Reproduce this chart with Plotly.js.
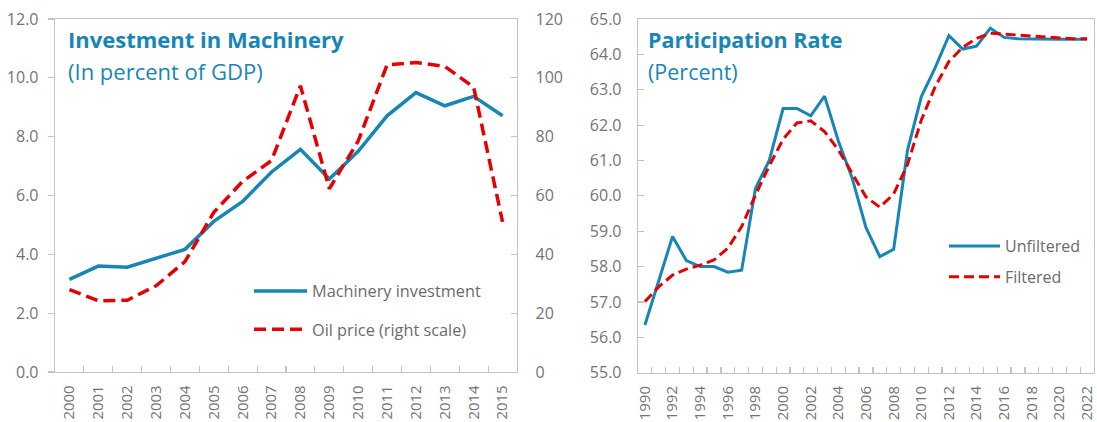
<!DOCTYPE html>
<html>
<head>
<meta charset="utf-8">
<script src="https://cdn.plot.ly/plotly-3.0.1.min.js"></script>
<style>
  html, body { margin: 0; padding: 0; background: #ffffff; }
  #chart { width: 1097px; height: 422px; }
</style>
</head>
<body>
<div id="chart"></div>
<script>
// ---- Left panel data ----
const yearsLeft = ['2000','2001','2002','2003','2004','2005','2006','2007','2008','2009','2010','2011','2012','2013','2014','2015'];
const machineryInvestment = [3.15, 3.60, 3.56, 3.86, 4.17, 5.12, 5.80, 6.80, 7.57, 6.56, 7.50, 8.71, 9.50, 9.05, 9.37, 8.71];
const oilPrice = [28.0, 24.2, 24.4, 29.3, 37.5, 54.3, 64.8, 71.9, 97.3, 62.3, 78.5, 104.4, 105.2, 103.9, 96.8, 51.0];

// ---- Right panel data ----
const yearsRight = ['1990','1991','1992','1993','1994','1995','1996','1997','1998','1999','2000','2001','2002','2003','2004','2005','2006','2007','2008','2009','2010','2011','2012','2013','2014','2015','2016','2017','2018','2019','2020','2021','2022'];
const yearLabelsRight = ['1990','','1992','','1994','','1996','','1998','','2000','','2002','','2004','','2006','','2008','','2010','','2012','','2014','','2016','','2018','','2020','','2022'];
const unfiltered = [56.35, 57.60, 58.85, 58.17, 58.00, 58.00, 57.84, 57.90, 60.21, 61.00, 62.47, 62.47, 62.26, 62.82, 61.55, 60.50, 59.10, 58.28, 58.49, 61.28, 62.80, 63.62, 64.53, 64.15, 64.23, 64.74, 64.48, 64.44, 64.43, 64.43, 64.43, 64.43, 64.43];
const filtered = [57.01, 57.43, 57.76, 57.93, 58.04, 58.19, 58.52, 59.13, 60.02, 60.85, 61.60, 62.06, 62.12, 61.82, 61.30, 60.64, 59.97, 59.68, 60.05, 60.88, 62.14, 63.08, 63.80, 64.20, 64.45, 64.60, 64.57, 64.54, 64.51, 64.48, 64.45, 64.44, 64.44];

const BLUE = '#1786b6';
const RED = '#e60000';
const AXIS = '#c3c3c3';
const TICKTXT = '#747474';
const FONT = 'Open Sans, Noto Sans, sans-serif';

const traces = [
  { x: yearsLeft, y: machineryInvestment, name: 'Machinery investment', type: 'scatter', mode: 'lines',
    line: { color: BLUE, width: 3.5 }, xaxis: 'x', yaxis: 'y', legend: 'legend', legendgroup: 'a' },
  { x: yearsLeft, y: oilPrice, name: 'Oil price (right scale)', type: 'scatter', mode: 'lines',
    line: { color: RED, width: 3.5, dash: '12px,6px' }, xaxis: 'x', yaxis: 'y2', legend: 'legend', legendgroup: 'b' },
  { x: yearsRight, y: unfiltered, name: 'Unfiltered', type: 'scatter', mode: 'lines',
    line: { color: BLUE, width: 3 }, xaxis: 'x2', yaxis: 'y3', legend: 'legend2', legendgroup: 'c' },
  { x: yearsRight, y: filtered, name: 'Filtered', type: 'scatter', mode: 'lines',
    line: { color: RED, width: 3, dash: '10px,5px' }, xaxis: 'x2', yaxis: 'y3', legend: 'legend2', legendgroup: 'd' }
];

const W = 1097, H = 422;
const px = v => v / W;
const py = v => (H - v) / H;

const xCommon = {
  type: 'category', tickson: 'boundaries', ticks: 'inside', ticklen: 6, tickcolor: AXIS, tickwidth: 1.2,
  tickangle: -90, showline: true, linecolor: AXIS, linewidth: 1.3, mirror: true, showgrid: false, zeroline: false,
  tickfont: { family: FONT, size: 15, color: TICKTXT }, ticklabelstandoff: 6
};
const yCommon = {
  showline: true, linecolor: AXIS, linewidth: 1.3, showgrid: false, zeroline: false,
  tickcolor: AXIS, tickwidth: 1.2, ticklen: 6, tickfont: { family: FONT, size: 16, color: TICKTXT }
};

const layout = {
  width: W, height: H,
  margin: { l: 0, r: 0, t: 0, b: 0 },
  paper_bgcolor: '#ffffff', plot_bgcolor: '#ffffff',
  font: { family: FONT, color: TICKTXT },
  showlegend: true,
  xaxis: Object.assign({}, xCommon, {
    domain: [px(55), px(517)], anchor: 'y', range: [-0.5, yearsLeft.length - 0.5]
  }),
  yaxis: Object.assign({}, yCommon, {
    domain: [py(372), py(19)], anchor: 'x', range: [0, 12], dtick: 2, tickformat: '.1f',
    ticks: 'outside', ticklabelstandoff: 6
  }),
  yaxis2: Object.assign({}, yCommon, {
    overlaying: 'y', side: 'right', anchor: 'x', range: [0, 120], dtick: 20,
    ticks: 'inside', ticklabelstandoff: 14
  }),
  xaxis2: Object.assign({}, xCommon, {
    domain: [px(638), px(1094)], anchor: 'y3', range: [-0.5, yearsRight.length - 0.5],
    tickmode: 'array', tickvals: yearsRight, ticktext: yearLabelsRight
  }),
  yaxis3: Object.assign({}, yCommon, {
    domain: [py(372.7), py(19)], anchor: 'x2', range: [55, 65], dtick: 1, tickformat: '.1f',
    ticks: 'inside', mirror: true, ticklabelstandoff: 12
  }),
  legend: {
    x: px(249), y: py(274), xanchor: 'left', yanchor: 'top', bgcolor: 'rgba(0,0,0,0)',
    font: { family: FONT, size: 16.3, color: '#6b6b6b' }, tracegroupgap: 14, itemwidth: 53
  },
  legend2: {
    x: px(944), y: py(229), xanchor: 'left', yanchor: 'top', bgcolor: 'rgba(0,0,0,0)',
    font: { family: FONT, size: 16, color: '#6b6b6b' }, tracegroupgap: 7, itemwidth: 51
  },
  annotations: [
    { text: '<b>Investment in Machinery</b>', xref: 'paper', yref: 'paper', x: px(66), y: py(39),
      xanchor: 'left', yanchor: 'middle', showarrow: false, font: { family: FONT, size: 22, color: BLUE } },
    { text: '(In percent of GDP)', xref: 'paper', yref: 'paper', x: px(66), y: py(71),
      xanchor: 'left', yanchor: 'middle', showarrow: false, font: { family: FONT, size: 22, color: BLUE } },
    { text: '<b>Participation Rate</b>', xref: 'paper', yref: 'paper', x: px(646), y: py(39),
      xanchor: 'left', yanchor: 'middle', showarrow: false, font: { family: FONT, size: 21.5, color: BLUE } },
    { text: '(Percent)', xref: 'paper', yref: 'paper', x: px(646), y: py(71),
      xanchor: 'left', yanchor: 'middle', showarrow: false, font: { family: FONT, size: 21.5, color: BLUE } }
  ]
};

Plotly.newPlot('chart', traces, layout, { displayModeBar: false, staticPlot: true });
</script>
</body>
</html>
